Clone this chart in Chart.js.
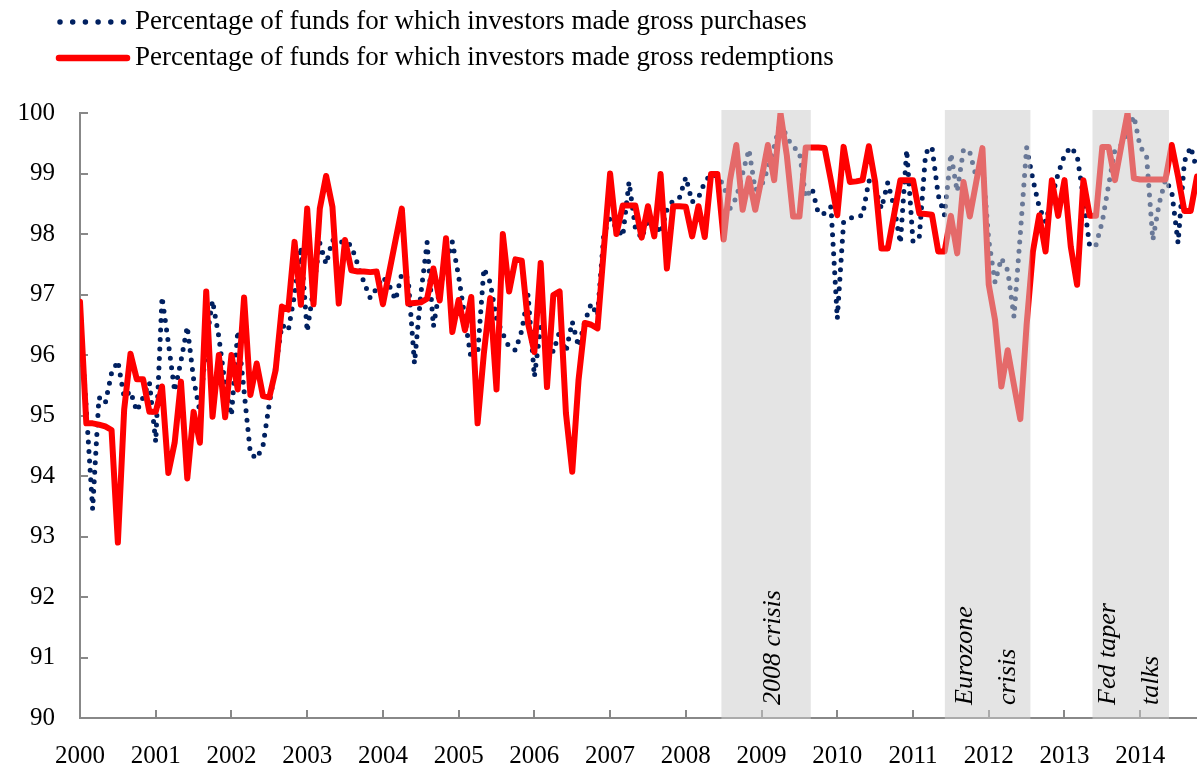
<!DOCTYPE html>
<html>
<head>
<meta charset="utf-8">
<script src="https://cdn.jsdelivr.net/npm/chart.js@4.4.0/dist/chart.umd.min.js"></script>
<style>
html, body { margin: 0; padding: 0; background: #fff; }
#wrap { width: 1197px; height: 768px; position: relative; }
</style>
</head>
<body>
<div id="wrap"><canvas id="chartFundos"></canvas></div>
<script>
// Dados mensais, jan/2000 ate out/2014
const startYear = 2000;

const purchases = [
  96.6, 95.1, 93.45, 95.3, 95.2, 95.7, 95.9, 95.3, 95.4, 95.07, 95.3, 95.55,
  94.56, 96.96, 96.2, 95.4, 95.9, 96.47, 95.6, 95.06, 96.2, 96.9, 96.3, 95.5,
  95.0, 96.4, 95.4, 94.37, 94.29, 94.5, 95.2, 95.8, 96.5, 96.4, 97.0, 97.79,
  96.39, 97.1, 97.85, 97.5, 97.9, 97.85, 97.89, 97.8, 97.5, 97.2, 96.94, 97.1,
  97.29, 97.15, 96.91, 97.35, 97.27, 95.86, 97.0, 97.86, 96.47, 97.1, 97.5, 97.87,
  97.3, 96.6, 95.92, 96.0, 97.43, 97.2, 96.6, 96.35, 96.13, 96.08, 96.4, 97.0,
  95.64, 96.47, 96.25, 96.05, 96.39, 96.05, 96.55, 96.14, 96.55, 96.85, 96.65, 98.0,
  98.26, 98.1, 97.96, 98.86, 98.1, 97.93, 98.23, 98.2, 98.01, 98.4, 98.56, 98.6,
  98.94, 98.53, 98.6, 98.86, 98.99, 98.95, 98.81, 98.42, 98.6, 99.0, 99.4, 98.73,
  98.8, 99.08, 99.44, 99.86, 99.6, 99.44, 99.36, 98.6, 98.76, 98.34, 98.34, 98.45,
  96.6, 98.2, 98.26, 98.3, 98.3, 98.88, 98.77, 98.42, 98.85, 98.45, 97.85, 99.39,
  97.87, 97.96, 99.34, 99.44, 98.64, 98.31, 99.33, 98.7, 99.4, 99.35, 98.95, 99.2,
  97.9, 97.2, 97.6, 97.4, 96.63, 98.0, 99.43, 98.9, 98.44, 98.2, 98.6, 99.0,
  99.3, 99.44, 99.3, 98.6, 97.79, 97.82, 98.21, 98.81, 99.4, 99.47, 99.7, 99.95,
  99.44, 99.3, 97.9, 98.5, 98.9, 98.7, 97.85, 99.2, 99.44, 99.06
];

const redemptions = [
  96.88, 94.87, 94.87, 94.85, 94.82, 94.76, 92.9, 95.1, 96.02, 95.6, 95.6, 95.06,
  95.06, 95.48, 94.05, 94.55, 95.56, 93.96, 95.06, 94.55, 97.05, 94.98, 96.0, 94.97,
  96.0, 95.43, 96.95, 95.34, 95.86, 95.32, 95.3, 95.75, 96.8, 96.75, 97.87, 96.83,
  98.42, 96.84, 98.42, 98.96, 98.45, 96.85, 97.9, 97.4, 97.38, 97.38, 97.37, 97.38,
  96.84, 97.37, 97.9, 98.42, 96.85, 96.86, 96.87, 96.93, 97.43, 96.9, 97.93, 96.38,
  96.91, 96.41, 96.96, 94.87, 96.03, 96.94, 95.43, 98.0, 97.05, 97.58, 97.56, 96.52,
  96.05, 97.52, 95.47, 96.99, 97.05, 95.04, 94.07, 95.59, 96.53, 96.5, 96.44, 97.74,
  99.0, 98.0, 98.47, 98.47, 98.47, 97.94, 98.46, 97.96, 98.99, 97.43, 98.46, 98.46,
  98.45, 97.96, 98.46, 97.95, 98.99, 98.99, 97.91, 98.89, 99.47, 98.4, 98.92, 98.4,
  98.92, 99.47, 98.89, 100.0, 99.3, 98.29, 98.29, 99.43, 99.43, 99.43, 99.42, 98.88,
  98.31, 99.44, 98.86, 98.87, 98.89, 99.45, 98.86, 97.76, 97.76, 98.32, 98.89, 98.89,
  98.89, 98.34, 98.33, 98.32, 97.71, 97.71, 98.3, 97.68, 98.86, 98.29, 98.85, 99.42,
  97.16, 96.58, 95.48, 96.08, 95.5, 94.94, 96.5, 97.71, 98.31, 97.71, 98.89, 98.3,
  98.89, 97.79, 97.16, 98.89, 98.3, 98.3, 99.44, 99.44, 98.89, 99.45, 100.0, 98.92,
  98.9, 98.9, 98.9, 98.9, 98.9, 99.47, 98.95, 98.38, 98.38, 98.95
];

const seriesLabels = [
  'Percentage of funds for which investors made gross purchases',
  'Percentage of funds for which investors made gross redemptions'
];

// Periodos de crise (em anos) e os textos de cada faixa
const crisisBands = [[2008.47, 2009.65], [2011.42, 2012.55], [2013.37, 2014.38]];
const crisisTexts = [['2008 crisis'], ['Eurozone', 'crisis'], ['Fed taper', 'talks']];

const yMin = 90;
const yMax = 100;

const serif = "'Liberation Serif', 'DejaVu Serif', serif";
const navy = '#002060';
const red = '#ff0000';

const toPoints = arr => arr.map((v, i) => ({ x: startYear + i / 12, y: v }));
const lastX = startYear + (purchases.length - 1) / 12;

// Faixas cinzas por cima das linhas + textos na vertical
const faixasPlugin = {
  id: 'faixas',
  afterDatasetsDraw(chart) {
    const { ctx, chartArea, scales: { x } } = chart;
    ctx.save();
    ctx.fillStyle = 'rgba(203,203,203,0.52)';
    crisisBands.forEach(function (b) {
      const x1 = x.getPixelForValue(b[0]);
      const x2 = x.getPixelForValue(b[1]);
      ctx.fillRect(x1, chartArea.top - 3, x2 - x1, chartArea.bottom - chartArea.top + 4);
    });

    ctx.fillStyle = '#000';
    ctx.font = 'italic 26px ' + serif;
    ctx.textAlign = 'left';
    ctx.textBaseline = 'alphabetic';
    crisisBands.forEach(function (b, k) {
      const center = (x.getPixelForValue(b[0]) + x.getPixelForValue(b[1])) / 2;
      const lines = crisisTexts[k];
      const first = lines.length === 1 ? 14 : -16;
      lines.forEach(function (txt, j) {
        ctx.save();
        ctx.translate(center + first + j * 43, chartArea.bottom - 13);
        ctx.rotate(-Math.PI / 2);
        ctx.fillText(txt, 0, 0);
        ctx.restore();
      });
    });
    ctx.restore();
  }
};

// Legenda desenhada no topo (linha pontilhada e linha cheia)
const legendaPlugin = {
  id: 'legenda',
  afterDraw(chart) {
    const ctx = chart.ctx;
    const rows = [22, 58];
    ctx.save();
    chart.data.datasets.forEach(function (ds, i) {
      const y = rows[i];
      ctx.beginPath();
      ctx.strokeStyle = ds.borderColor;
      ctx.lineCap = 'round';
      if (ds.borderDash && ds.borderDash.length) {
        ctx.setLineDash([0, 12.7]);
        ctx.lineWidth = 5.5;
        ctx.moveTo(60, y);
        ctx.lineTo(126, y);
      } else {
        ctx.setLineDash([]);
        ctx.lineWidth = 6.5;
        ctx.moveTo(59, y);
        ctx.lineTo(127, y);
      }
      ctx.stroke();
      ctx.setLineDash([]);
      ctx.fillStyle = '#000';
      ctx.font = '27px ' + serif;
      ctx.textBaseline = 'middle';
      ctx.textAlign = 'left';
      ctx.fillText(ds.label, 135, y);
    });
    ctx.restore();
  }
};

const tickFont = { family: serif, size: 25 };

new Chart(document.getElementById('chartFundos').getContext('2d'), {
  type: 'line',
  data: {
    datasets: [
      {
        label: seriesLabels[0],
        data: toPoints(purchases),
        borderColor: navy,
        borderWidth: 5,
        borderDash: [0, 9.5],
        borderCapStyle: 'round',
        borderJoinStyle: 'round',
        pointRadius: 0,
        tension: 0,
        fill: false,
        order: 2
      },
      {
        label: seriesLabels[1],
        data: toPoints(redemptions),
        borderColor: red,
        borderWidth: 6,
        borderCapStyle: 'round',
        borderJoinStyle: 'round',
        pointRadius: 0,
        tension: 0,
        fill: false,
        order: 1
      }
    ]
  },
  options: {
    responsive: true,
    maintainAspectRatio: false,
    animation: false,
    layout: { padding: { top: 113, right: 0, bottom: 0, left: 0 } },
    plugins: {
      legend: { display: false },
      tooltip: { enabled: false }
    },
    scales: {
      x: {
        type: 'linear',
        min: startYear,
        max: lastX,
        afterFit: function (s) { s.height = 50; },
        ticks: {
          stepSize: 1,
          includeBounds: false,
          autoSkip: false,
          maxRotation: 0,
          padding: 31,
          color: '#000',
          font: tickFont,
          callback: v => String(v)
        },
        grid: { drawOnChartArea: false, tickLength: -8, color: '#888', lineWidth: 2 },
        border: { color: '#888', width: 2 }
      },
      y: {
        min: yMin,
        max: yMax,
        afterFit: function (s) { s.width = 80; },
        ticks: {
          stepSize: 1,
          padding: 33,
          color: '#000',
          font: tickFont,
          callback: v => String(v)
        },
        grid: { drawOnChartArea: false, tickLength: -8, color: '#888', lineWidth: 2 },
        border: { color: '#888', width: 2 }
      }
    }
  },
  plugins: [faixasPlugin, legendaPlugin]
});
</script>
</body>
</html>
